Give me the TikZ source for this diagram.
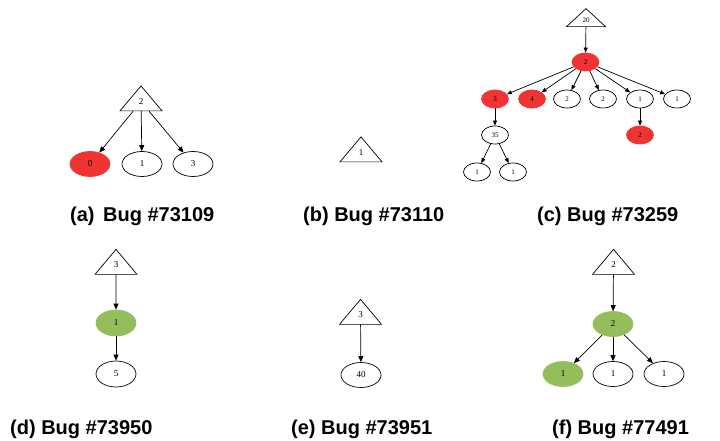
\documentclass[tikz,border=0pt]{standalone}
\usepackage{fontspec}
\setmainfont{Liberation Serif}
\newfontfamily\capfont{Liberation Sans}
\usetikzlibrary{shapes.geometric,arrows.meta}
\definecolor{bugred}{RGB}{240,52,52}
\definecolor{fixgreen}{RGB}{148,190,92}
\tikzset{
  tri/.style={draw, line width=0.7pt, isosceles triangle, isosceles triangle stretches, shape border rotate=90, inner sep=0pt, font=\fontsize{9}{9}\selectfont},
  bigtri/.style={tri, minimum width=42pt, minimum height=25pt},
  smalltri/.style={tri, minimum width=39pt, minimum height=18pt, font=\fontsize{7}{7}\selectfont},
  ell/.style={draw, line width=0.7pt, ellipse, inner sep=0pt, minimum width=40pt, minimum height=25pt, font=\fontsize{9}{9}\selectfont},
  sell/.style={ell, minimum width=27pt, minimum height=18pt, font=\fontsize{7}{7}\selectfont},
  redfill/.style={fill=bugred, draw=bugred},
  greenfill/.style={fill=fixgreen, draw=fixgreen},
  arr/.style={-{Triangle[length=6pt,width=5pt]}, line width=0.7pt},
  sarr/.style={-{Triangle[length=5pt,width=4pt]}, line width=0.7pt},
  captext/.style={anchor=base west, inner sep=0pt, font=\capfont\bfseries\fontsize{20}{20}\selectfont}
}
\begin{document}
\begin{tikzpicture}[x=1pt,y=-1pt]
\useasboundingbox (0,0) rectangle (720,441);
% (a)
\node[bigtri] (ta) at (141,101.5) {2};
\node[ell,redfill] (a0) at (90,164) {0};
\node[ell] (a1) at (142,164) {1};
\node[ell] (a3) at (193,164) {3};
\draw[arr] (ta) -- (a0);
\draw[arr] (ta) -- (a1);
\draw[arr] (ta) -- (a3);
\node[captext] (capa) at (70,221) {(a)\hspace{3pt} Bug \#73109};
% (b)
\node[bigtri] (tb) at (361,152.5) {1};
\node[captext] (capb) at (303,221) {(b) Bug \#73110};
% (c)
\node[smalltri] (tc) at (586,20) {20};
\node[sell,redfill] (c2) at (585.5,62) {2};
\node[sell,redfill] (c3) at (495,99) {3};
\node[sell,redfill] (c4) at (532,99) {4};
\node[sell] (c5) at (567,99) {2};
\node[sell] (c6) at (603,99) {2};
\node[sell] (c7) at (640,99) {1};
\node[sell] (c8) at (677,99) {1};
\node[sell] (c35) at (495,135) {35};
\node[sell,redfill] (c9) at (640,135) {2};
\node[sell] (c10) at (477,172) {1};
\node[sell] (c11) at (513,172) {1};
\draw[sarr] (tc) -- (c2);
\foreach \t in {c3,c4,c5,c6,c7,c8} \draw[sarr] (c2) -- (\t);
\draw[sarr] (c3) -- (c35);
\draw[sarr] (c7) -- (c9);
\draw[sarr] (c35) -- (c10);
\draw[sarr] (c35) -- (c11);
\node[captext] (capc) at (537,221) {(c) Bug \#73259};
% (d)
\node[bigtri] (td) at (116,265) {3};
\node[ell,greenfill,minimum height=26pt] (d1) at (116,323) {1};
\node[ell,minimum height=26pt] (d5) at (116,374) {5};
\draw[arr] (td) -- (d1);
\draw[arr] (d1) -- (d5);
\node[captext] (capd) at (10,434) {(d) Bug \#73950};
% (e)
\node[bigtri] (te) at (360.5,315) {3};
\node[ell] (e40) at (361,375) {40};
\draw[arr] (te) -- (e40);
\node[captext] (cape) at (291,434) {(e) Bug \#73951};
% (f)
\node[bigtri] (tf) at (613.5,265) {2};
\node[ell,greenfill] (f2) at (613,324) {2};
\node[ell,greenfill] (f1) at (563,374) {1};
\node[ell] (f3) at (613,374) {1};
\node[ell] (f4) at (664,374) {1};
\draw[arr] (tf) -- (f2);
\draw[arr] (f2) -- (f1);
\draw[arr] (f2) -- (f3);
\draw[arr] (f2) -- (f4);
\node[captext] (capf) at (552,434) {(f) Bug \#77491};
\end{tikzpicture}
\end{document}
